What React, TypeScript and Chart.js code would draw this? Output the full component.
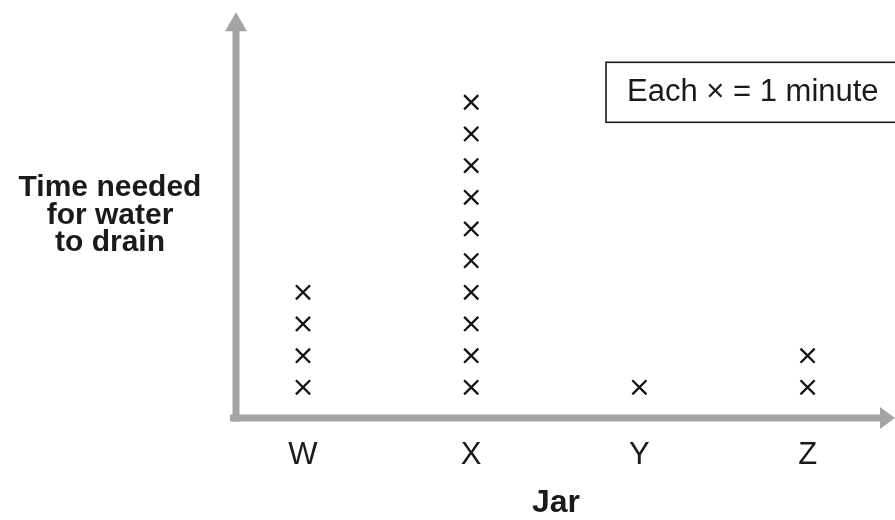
import React, { useEffect, useRef } from "react";
import { Chart, registerables } from "chart.js";

Chart.register(...registerables);

// ---- data ----
const JARS = ["W", "X", "Y", "Z"];
const MINUTES = [4, 10, 1, 2];
const Y_TITLE = ["Time needed", "for water", "to drain"];
const X_TITLE = "Jar";
const KEY_TEXT = "Each \u00d7 = 1 minute";

const FONT = '"Liberation Sans", Arial, Helvetica, sans-serif';
const INK = "#1a1a1a";
const MARK = "#141414";
const AXIS_GRAY = "#a4a4a4";

export default function App() {
  const ref = useRef<HTMLCanvasElement | null>(null);

  useEffect(() => {
    document.body.style.margin = "0";
    const canvas = ref.current;
    if (!canvas) return;

    const points: { x: number; y: number }[] = [];
    JARS.forEach((_, i) => {
      for (let k = 1; k <= MINUTES[i]; k++) points.push({ x: i + 1, y: k });
    });

    const decor = {
      id: "decor",
      beforeDatasetsDraw(chart: any) {
        const { ctx, chartArea: a } = chart;
        ctx.save();
        ctx.fillStyle = AXIS_GRAY;
        const w = 7;
        const ax = a.left;
        const ay = a.bottom - 1;
        // vertical axis arrow
        ctx.fillRect(ax - w / 2, a.top + 17, w, ay - (a.top + 17) + w / 2);
        ctx.beginPath();
        ctx.moveTo(ax, a.top);
        ctx.lineTo(ax - 11, a.top + 19);
        ctx.lineTo(ax + 11, a.top + 19);
        ctx.closePath();
        ctx.fill();
        // horizontal axis arrow
        ctx.fillRect(ax - 6, ay - w / 2, a.right + 6 - (ax - 6), w);
        ctx.beginPath();
        ctx.moveTo(a.right + 19, ay);
        ctx.lineTo(a.right + 4, ay - 11);
        ctx.lineTo(a.right + 4, ay + 11);
        ctx.closePath();
        ctx.fill();
        ctx.restore();
      },
      afterDraw(chart: any) {
        const { ctx, chartArea: a } = chart;
        ctx.save();
        // vertical axis title (horizontal text)
        ctx.fillStyle = INK;
        ctx.font = `bold 30px ${FONT}`;
        ctx.textAlign = "center";
        ctx.textBaseline = "alphabetic";
        Y_TITLE.forEach((line, i) => {
          ctx.fillText(line, a.left - 126, a.top + 184 + i * 27.5);
        });
        // key box
        ctx.strokeStyle = INK;
        ctx.lineWidth = 1.6;
        ctx.strokeRect(a.left + 370, a.top + 50, 400, 60);
        ctx.font = `31px ${FONT}`;
        ctx.textAlign = "left";
        ctx.fillText(KEY_TEXT, a.left + 391, a.top + 89);
        ctx.restore();
      },
    };

    const chart = new Chart(canvas, {
      type: "scatter",
      data: {
        datasets: [
          {
            data: points,
            pointStyle: "crossRot",
            pointRadius: 10,
            pointBorderWidth: 2.3,
            borderColor: MARK,
            backgroundColor: MARK,
            showLine: false,
          } as any,
        ],
      },
      options: {
        animation: false,
        responsive: false,
        events: [],
        layout: { padding: { top: 8, left: 236, right: 19, bottom: 0 } },
        plugins: {
          legend: { display: false },
          tooltip: { enabled: false },
        },
        scales: {
          x: {
            type: "linear",
            min: 0.6017,
            max: 4.4067,
            grid: { display: false, drawTicks: false },
            border: { display: false },
            afterBuildTicks: (s: any) => {
              s.ticks = JARS.map((_, i) => ({ value: i + 1 }));
            },
            afterFit: (s: any) => {
              s.height = 101;
            },
            ticks: {
              color: INK,
              font: { family: FONT, size: 31 },
              padding: 18,
              autoSkip: false,
              maxRotation: 0,
              callback: (v: any) => JARS[Math.round(Number(v)) - 1] ?? "",
            },
            title: {
              display: true,
              text: X_TITLE,
              color: INK,
              font: { family: FONT, size: 32, weight: "bold", lineHeight: 1 },
              padding: { top: 0, bottom: 1 },
            },
          },
          y: { display: false, min: 0, max: 12.84 },
        },
      },
      plugins: [decor],
    } as any);

    return () => chart.destroy();
  }, []);

  return (
    <div style={{ width: 895, height: 520 }}>
      <canvas ref={ref} width={895} height={520} />
    </div>
  );
}
